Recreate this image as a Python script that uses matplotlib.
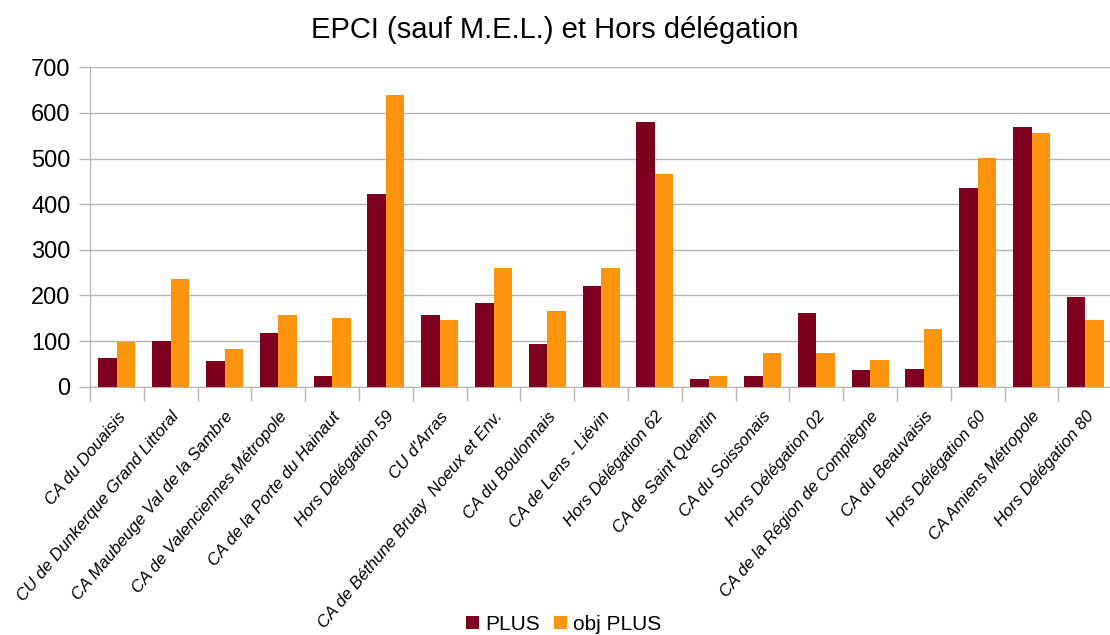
import matplotlib
matplotlib.use("Agg")
import matplotlib.pyplot as plt
import numpy as np

# categories and values
categories = [
    "CA du Douaisis", "CU de Dunkerque Grand Littoral", "CA Maubeuge Val de la Sambre",
    "CA de Valenciennes Métropole", "CA de la Porte du Hainaut", "Hors Délégation 59",
    "CU d'Arras", "CA de Béthune Bruay  Noeux et Env.", "CA du Boulonnais",
    "CA de Lens - Liévin", "Hors Délégation 62", "CA de Saint Quentin",
    "CA du Soissonais", "Hors Délégation 02", "CA de la Région de Compiègne",
    "CA du Beauvaisis", "Hors Délégation 60", "CA Amiens Métropole", "Hors Délégation 80",
]
plus = [63, 100, 56, 118, 23, 422, 157, 183, 93, 220, 580, 17, 23, 161, 36, 39, 435, 569, 196]
obj_plus = [98, 236, 82, 157, 150, 639, 146, 260, 166, 260, 466, 23, 74, 74, 58, 126, 501, 555, 146]
yticks = [0, 100, 200, 300, 400, 500, 600, 700]

plt.rcParams["font.family"] = ["Liberation Sans", "DejaVu Sans"]

fig = plt.figure(figsize=(11.1, 6.35), dpi=100)
# the plot area runs a little past the right edge, as in the reference
ax = fig.add_axes([0.0811, 0.391, 0.9209, 0.503])

x = np.arange(len(categories))
w = 0.345
ax.bar(x - w / 2, plus, w, color="#7e0021", label="PLUS", zorder=3)
ax.bar(x + w / 2, obj_plus, w, color="#ff950e", label="obj PLUS", zorder=3)

ax.set_xlim(-0.5, len(categories) - 0.5)
ax.set_ylim(0, 700)
ax.set_yticks(yticks)
ax.set_yticklabels([str(v) for v in yticks], fontsize=17)
ax.grid(axis="y", color="#b3b3b3", linewidth=1, zorder=0)

ax.set_xticks(x)
ax.set_xticklabels(categories, rotation=50, ha="right", rotation_mode="anchor",
                   fontsize=12.2, style="italic")
ax.set_xticks(np.arange(-0.5, len(categories)), minor=True)
ax.tick_params(axis="x", which="major", length=0, pad=16)
ax.tick_params(axis="x", which="minor", length=10, color="#b3b3b3", width=1)
ax.tick_params(axis="y", length=8, color="#b3b3b3", width=1, pad=6)

for s in ["top", "right"]:
    ax.spines[s].set_visible(False)
for s in ["left", "bottom"]:
    ax.spines[s].set_color("#b3b3b3")

fig.suptitle("EPCI (sauf M.E.L.) et Hors délégation", fontsize=21, y=0.975)

fig.legend(loc="lower center", ncol=2, frameon=False, bbox_to_anchor=(0.508, -0.028),
           prop={"size": 15}, handlelength=0.6, handleheight=0.6,
           handletextpad=0.3, columnspacing=0.7)

fig.savefig("out.png", dpi=100)
